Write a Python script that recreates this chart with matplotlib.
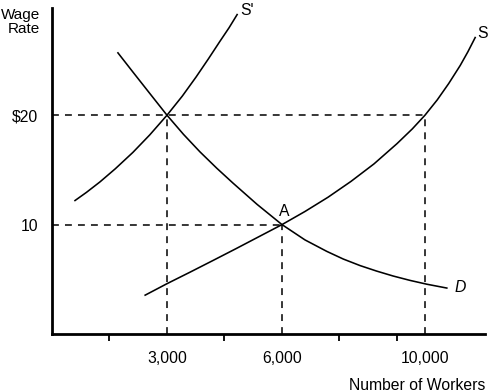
import matplotlib
matplotlib.use("Agg")
import matplotlib.pyplot as plt

plt.rcParams['font.family'] = ['Liberation Sans', 'DejaVu Sans']

# supply curve S' (shifted)
s2_x = [600, 900, 1250, 1650, 2110, 2550, 3000, 3400, 3760, 4080, 4380, 4620, 4830]
s2_y = [12.2, 12.95, 13.9, 15.1, 16.6, 18.2, 20.0, 21.75, 23.5, 25.15, 26.75, 28.0, 29.2]

# demand curve D
d_x = [1720, 2110, 2560, 3000, 3430, 3860, 4300, 4720, 5350, 6000, 6600, 7170,
       7600, 8040, 8470, 8900, 9340, 9780, 10300]
d_y = [25.7, 23.95, 21.95, 20.0, 18.25, 16.65, 15.15, 13.8, 11.85, 10.0, 8.6, 7.55,
       6.85, 6.25, 5.75, 5.3, 4.9, 4.55, 4.2]

# supply curve S
s_x = [2430, 3000, 3600, 4200, 4800, 5400, 6000, 6600, 7200, 7800, 8400, 9000,
       9400, 9730, 10050, 10350, 10650, 10850, 11040]
s_y = [3.55, 4.6, 5.65, 6.72, 7.8, 8.9, 10.0, 11.2, 12.5, 13.95, 15.55, 17.4,
       18.75, 20.0, 21.4, 22.9, 24.55, 25.8, 27.1]

x_tick_pos = [3000, 6000, 9730]
x_tick_labels = ["3,000", "6,000", "10,000"]
x_minor = [1500, 3000, 4500, 6000, 7500, 9000]
y_tick_pos = [10, 20]
y_tick_labels = ["10", "$20"]

fig = plt.figure(figsize=(4.92, 3.92), dpi=100)
ax = fig.add_axes([52/492, 58/392, 433/492, 326/392])

lw = 1.15
ax.plot(s2_x, s2_y, color="black", lw=lw)
ax.plot(d_x, d_y, color="black", lw=lw)
ax.plot(s_x, s_y, color="black", lw=lw)

dash = dict(color="black", lw=1.1, dashes=(4.5, 4))
ax.plot([0, 9730], [20, 20], **dash)
ax.plot([0, 6000], [10, 10], **dash)
ax.plot([3000, 3000], [0, 20], **dash)
ax.plot([6000, 6000], [0, 10], **dash)
ax.plot([9730, 9730], [0, 20], **dash)

fs = 11.3
ax.text(5087, 29.6, "S'", fontsize=fs, ha="center", va="center", clip_on=False)
ax.text(11243, 27.5, "S", fontsize=fs, ha="center", va="center", clip_on=False)
ax.text(10643, 4.29, "D", fontsize=fs, style="italic", ha="center", va="center")
ax.text(6052, 11.23, "A", fontsize=fs, ha="center", va="center")

ax.set_xlim(0, 11296)
ax.set_ylim(0, 29.8)

for side in ["top", "right"]:
    ax.spines[side].set_visible(False)
for side in ["left", "bottom"]:
    ax.spines[side].set_linewidth(2.0)

ax.set_xticks(x_tick_pos)
ax.set_xticklabels(x_tick_labels, fontsize=fs)
ax.set_xticks(x_minor, minor=True)
ax.tick_params(axis="x", which="major", length=0, pad=12)
ax.tick_params(axis="x", which="minor", length=5, width=1.3)
ax.set_yticks(y_tick_pos)
ax.set_yticklabels(y_tick_labels, fontsize=fs)
ax.tick_params(axis="y", length=0, pad=10)

fig.text(40/492, 1 - 8/392, "Wage\nRate", fontsize=11, ha="right", va="top", linespacing=1.0)
fig.text(485/492, 1 - 393/392, "Number of Workers", fontsize=fs, ha="right", va="bottom")

fig.savefig("out.png", dpi=100)
